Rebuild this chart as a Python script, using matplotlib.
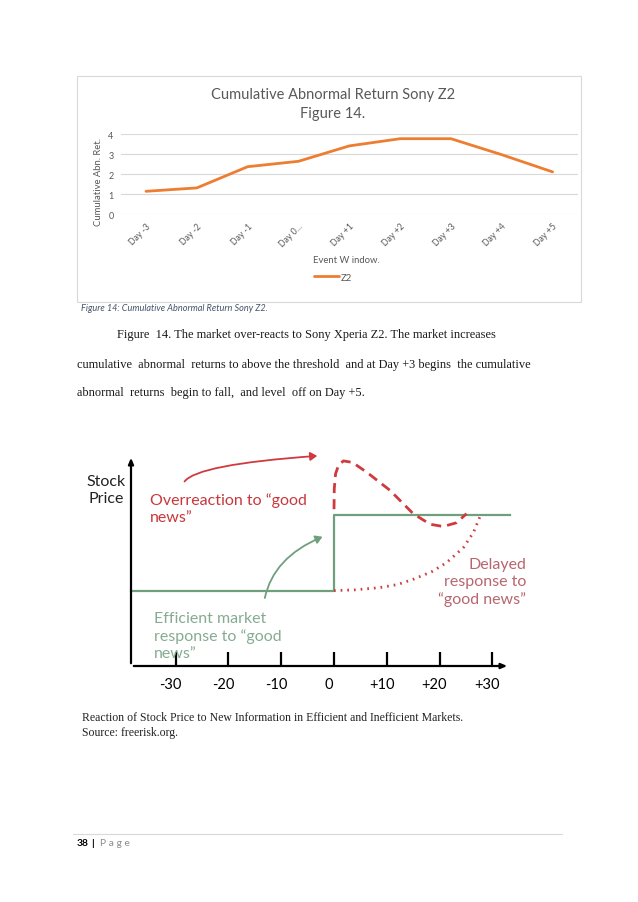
import matplotlib
matplotlib.use("Agg")
import matplotlib.pyplot as plt
from matplotlib.patches import Rectangle, FancyArrowPatch
from matplotlib.lines import Line2D

############# PAGE CONFIG ###############
W, H = 638, 903
DPI = 100
OUTPUT_PATH = "out.png"
#########################################

############# CHART DATA ################
DAYS = ["Day -3", "Day -2", "Day -1", "Day 0...", "Day +1", "Day +2", "Day +3", "Day +4", "Day +5"]
CAR_Z2 = [1.15, 1.32, 2.38, 2.65, 3.42, 3.78, 3.78, 2.98, 2.12]
Y_TICKS = [0, 1, 2, 3, 4]
#########################################

############# DIAGRAM DATA ##############
# event-time axis of the stock price sketch
EVENT_TICKS = [-30, -20, -10, 0, 10, 20, 30]
EVENT_LABELS = ["-30", "-20", "-10", "0", "+10", "+20", "+30"]
# efficient market: step at day 0
EFF_X = [-38.4, 0, 0, 33.3]
EFF_Y = [1.0, 1.0, 2.0, 2.0]
# overreaction (dashed)
OVER_X = [0, 0.05, 0.3, 0.9, 1.8, 3.5, 6.2, 10.6, 15.0, 18.2, 20.7, 23.2, 25.1]
OVER_Y = [2.08, 2.35, 2.55, 2.67, 2.72, 2.70, 2.57, 2.33, 2.02, 1.88, 1.85, 1.90, 2.02]
# delayed response (dotted)
DELAY_X = [0, 4.0, 8.7, 12.0, 15.0, 18.5, 21.3, 24.5, 26.4, 27.7]
DELAY_Y = [1.0, 1.01, 1.04, 1.08, 1.15, 1.25, 1.37, 1.57, 1.77, 1.99]
#########################################

ORANGE = "#ed7d31"
GRID = "#d9d9d9"
TXT = "#595959"
RED = "#cf3a3e"
RED_TXT = "#c8373c"
PINK_TXT = "#b7666f"
GREEN = "#6f9f7d"
GREEN_TXT = "#86ab91"


def fx(px):
    return px / W


def fy(py):
    return 1 - py / H


def add_axes_px(left, top, right, bottom):
    return fig.add_axes([fx(left), fy(bottom), (right - left) / W, (bottom - top) / H])


fig = plt.figure(figsize=(W / DPI, H / DPI), dpi=DPI)
fig.patch.set_facecolor("white")

# ---------------- Excel chart ----------------
fig.add_artist(Rectangle((fx(77), fy(303)), (581 - 77) / W, (303 - 77) / H,
                         transform=fig.transFigure, fill=False, edgecolor=GRID, linewidth=0.8))

ax = add_axes_px(120.6, 135.3, 578, 215.3)
x = list(range(len(DAYS)))
ax.plot(x, CAR_Z2, color=ORANGE, linewidth=2.0, solid_capstyle="round", label="Z2")
ax.set_xlim(-0.5, len(DAYS) - 0.5)
ax.set_ylim(0, 4)
ax.set_yticks(Y_TICKS)
ax.set_yticklabels([str(t) for t in Y_TICKS], fontsize=6.5, color=TXT, family="Lato")
ax.set_xticks(x)
ax.set_xticklabels(DAYS, rotation=45, ha="right", va="top", rotation_mode="anchor",
                   fontsize=6.3, color=TXT, family="Lato")
ax.tick_params(axis="both", length=0, pad=5)
ax.tick_params(axis="x", pad=5)
ax.grid(True, axis="y", color=GRID, linewidth=0.8)
ax.set_axisbelow(True)
for s in ax.spines.values():
    s.set_visible(False)

fig.text(fx(333), fy(95), "Cumulative Abnormal Return Sony Z2", ha="center", va="center",
         fontsize=10.5, color=TXT, family="Lato")
fig.text(fx(333), fy(114.3), "Figure 14.", ha="center", va="center",
         fontsize=10.5, color=TXT, family="Lato")
fig.text(fx(98.3), fy(182), "Cumulative Abn. Ret.", ha="center", va="center", rotation=90,
         fontsize=6.8, color=TXT, family="Lato")
fig.text(fx(346.7), fy(260.7), "Event W indow.", ha="center", va="center",
         fontsize=6.8, color=TXT, family="Lato")
ax.legend(loc="center", bbox_to_anchor=(fx(333), fy(278.3)), bbox_transform=fig.transFigure,
          frameon=False, handlelength=2.6, handletextpad=0.2,
          prop={"family": "Lato", "size": 6.8}, labelcolor=TXT)

fig.text(fx(80.7), fy(308.3), "Figure 14: Cumulative Abnormal Return Sony Z2.", ha="left", va="center",
         fontsize=6.6, style="italic", color="#44546a", family="Lato")

# ---------------- body text ----------------
body = [
    (116.7, 335, "Figure  14. The market over-reacts to Sony Xperia Z2. The market increases"),
    (76.7, 365, "cumulative  abnormal  returns to above the threshold  and at Day +3 begins  the cumulative"),
    (76.7, 392.7, "abnormal  returns  begin to fall,  and level  off on Day +5."),
]
for bx, by, line in body:
    fig.text(fx(bx), fy(by), line, ha="left", va="center", fontsize=8.9,
             family="Liberation Serif", color="#1a1a1a")

# ---------------- stock price diagram ----------------
# data units: x = (px - 334) / 5.28, y = (667 - py) / 75.4
dx0, dy0, sx, sy = 334.0, 667.0, 5.28, 75.4
d_left, d_top, d_right, d_bottom = 80, 440, 540, 700
dax = add_axes_px(d_left, d_top, d_right, d_bottom)
dax.set_xlim((d_left - dx0) / sx, (d_right - dx0) / sx)
dax.set_ylim((dy0 - d_bottom) / sy, (dy0 - d_top) / sy)
dax.axis("off")

x_min, x_max = (131 - dx0) / sx, (510 - dx0) / sx
y_top = (dy0 - 456) / sy
dax.annotate("", xy=(x_max, 0), xytext=(x_min, 0),
             arrowprops=dict(arrowstyle="-|>,head_length=0.35,head_width=0.15", color="black", lw=1.6))
dax.annotate("", xy=(x_min, y_top), xytext=(x_min, 0),
             arrowprops=dict(arrowstyle="-|>,head_length=0.35,head_width=0.15", color="black", lw=1.6))
dax.vlines(EVENT_TICKS, 0, 0.19, color="black", linewidth=1.6)
for t, lab in zip(EVENT_TICKS, EVENT_LABELS):
    dax.text(t - 1.0, -0.24, lab, ha="center", va="center", fontsize=10.5, family="Lato", color="black")

dax.plot(EFF_X, EFF_Y, color=GREEN, linewidth=1.6)
dax.plot(OVER_X, OVER_Y, color=RED, linewidth=2.0, linestyle=(0, (3.6, 2.2)))
dax.plot(DELAY_X, DELAY_Y, color=RED, linewidth=2.0, linestyle=(0, (0.6, 1.8)))

dax.add_patch(FancyArrowPatch(((183.3 - dx0) / sx, (dy0 - 485) / sy), ((320 - dx0) / sx, (dy0 - 456.7) / sy),
                              connectionstyle="angle3,angleA=75,angleB=4",
                              arrowstyle="-|>,head_length=4,head_width=2.5",
                              color=RED, linewidth=1.3))
dax.add_patch(FancyArrowPatch(((264.3 - dx0) / sx, (dy0 - 601.7) / sy), ((325 - dx0) / sx, (dy0 - 536.7) / sy),
                              connectionstyle="angle3,angleA=80,angleB=22",
                              arrowstyle="-|>,head_length=4,head_width=2.5",
                              color=GREEN, linewidth=1.3))

dax.text((106 - dx0) / sx, (dy0 - 490.5) / sy, "Stock\nPrice", ha="center", va="center",
         fontsize=11.5, family="Lato", color="#222222", linespacing=1.25)
dax.text((150 - dx0) / sx, (dy0 - 508.7) / sy, "Overreaction to \u201cgood\nnews\u201d", ha="left", va="center",
         fontsize=11.5, family="Lato", color=RED_TXT, linespacing=1.25)
dax.text((154 - dx0) / sx, (dy0 - 636.3) / sy, "Efficient market\nresponse to \u201cgood\nnews\u201d",
         ha="left", va="center", fontsize=11.5, family="Lato", color=GREEN_TXT, linespacing=1.25)
dax.text((526 - dx0) / sx, (dy0 - 582.2) / sy, "Delayed\nresponse to\n\u201cgood news\u201d", ha="right",
         va="center", multialignment="right", fontsize=11.5, family="Lato", color=PINK_TXT, linespacing=1.25)

fig.text(fx(81.7), fy(718.3), "Reaction of Stock Price to New Information in Efficient and Inefficient Markets.",
         ha="left", va="center", fontsize=8.5, family="Liberation Serif", color="#222222")
fig.text(fx(81.7), fy(733.3), "Source: freerisk.org.", ha="left", va="center",
         fontsize=8.5, family="Liberation Serif", color="#222222")

# ---------------- footer ----------------
fig.add_artist(Line2D([fx(73.3), fx(561.7)], [fy(835), fy(835)], transform=fig.transFigure,
                      color="#d9d9d9", linewidth=0.8))
fig.text(fx(76.7), fy(844), "38", ha="left", va="center", fontsize=7.4,
         fontweight="bold", family="Lato", color="black")
fig.text(fx(92), fy(844), "| ", ha="left", va="center", fontsize=7.4,
         fontweight="bold", family="Lato", color="black")
fig.text(fx(100), fy(844), "P a g e", ha="left", va="center", fontsize=7.4,
         family="Lato", color="#8c8c8c")

fig.savefig(OUTPUT_PATH, dpi=DPI)
